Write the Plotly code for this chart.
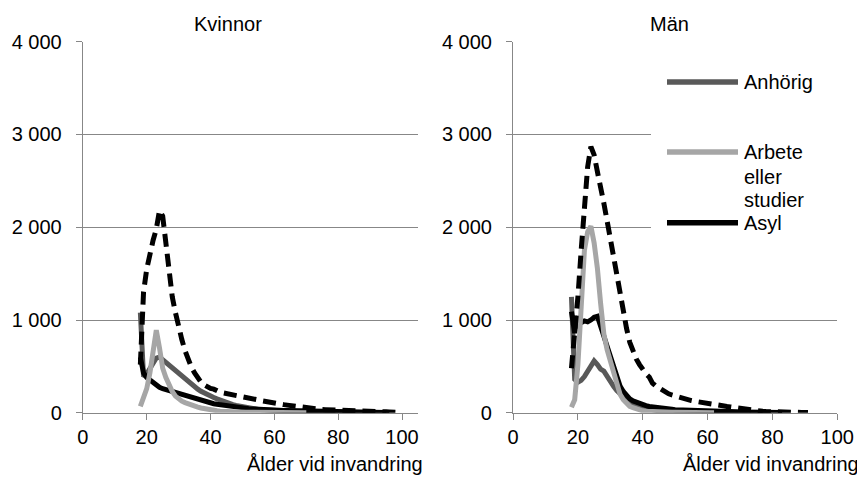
import plotly.graph_objects as go

# ---------------- data ----------------
AGE_START = 18
ages = list(range(AGE_START, 101))

# Kvinnor
k_total = [520, 1300, 1550, 1720, 1860, 1980, 2180, 2120, 1800, 1480,
           1250, 1080, 900, 790, 670, 570, 490, 430, 375, 330,
           300, 275, 262, 255, 235, 222, 214, 208, 204, 195,
           186, 178, 172, 166, 160, 152, 145, 138, 130, 122,
           116, 110, 104, 97, 92, 88, 83, 78, 72, 66,
           60, 55, 50, 47, 44, 41, 38, 35, 34, 32,
           31, 30, 28, 27, 26, 26, 25, 24, 23, 21,
           19, 17, 16, 14, 13, 12, 11, 10, 9, 8,
           7, 6, 5]
k_anhorig = [1080, 390, 420, 480, 540, 590, 600, 570, 545, 510,
             480, 450, 420, 395, 360, 330, 300, 280, 255, 232,
             212, 195, 178, 165, 150, 135, 120, 108, 98, 88,
             80, 72, 64, 57, 51, 46, 41, 37, 34, 31,
             28, 26, 24, 22, 20, 18, 17, 16, 15, 14,
             13, 12, 11, 10, 9, 8, 8, 7, 6, 6,
             5, 5, 4, 4, 3, 3, 3, 2, 2, 2,
             2, 1, 1, 1, 1, 1, 1, 1]
k_arbete = [70, 150, 260, 430, 680, 890, 700, 480, 380, 300,
            230, 180, 150, 125, 110, 95, 85, 72, 62, 52,
            44, 38, 32, 27, 22, 18, 15, 13, 11, 10,
            9, 8, 7, 6, 6, 5, 5, 4, 4, 3,
            3, 3, 2, 2, 2, 2, 1, 1, 1, 1,
            1, 1, 0]
k_asyl = [600, 430, 380, 350, 320, 300, 275, 260, 250, 240,
          225, 212, 200, 190, 180, 168, 158, 148, 138, 128,
          120, 112, 105, 98, 92, 86, 80, 75, 70, 65,
          60, 56, 52, 48, 45, 42, 39, 36, 34, 32,
          30, 29, 28, 27, 26, 25, 24, 23, 22, 21,
          20, 19, 18, 17, 16, 15, 14, 13, 13, 12,
          12, 11, 11, 10, 10, 9, 9, 8, 8, 7,
          7, 6, 6, 5, 5, 4, 4, 3, 3]

# Män
m_total = [480, 820, 1250, 1750, 2250, 2650, 2870, 2780, 2600, 2450,
           2260, 2070, 1870, 1680, 1470, 1270, 1080, 910, 760, 660,
           580, 520, 460, 420, 385, 320, 290, 265, 245, 225,
           205, 192, 180, 170, 160, 150, 140, 132, 125, 118,
           112, 106, 100, 95, 88, 82, 76, 72, 68, 64,
           58, 52, 46, 42, 36, 32, 28, 24, 20, 16,
           13, 11, 10, 9, 8, 8, 7, 7, 6, 5,
           4, 4, 3, 3]
m_anhorig = [1250, 360, 330, 350, 390, 440, 500, 560, 520, 470,
             450, 390, 340, 285, 240, 200, 170, 140, 115, 95,
             80, 65, 55, 45, 35, 30, 26, 22, 19, 17,
             15, 13, 12, 11, 10, 9, 8, 7, 7, 6,
             6, 5, 5, 4, 4, 4, 3, 3, 3, 2,
             2, 2, 2, 1, 1, 1, 1, 1, 1, 0]
m_arbete = [60, 140, 520, 1170, 1750, 1950, 2010, 1830, 1560, 1180,
            850, 680, 560, 430, 300, 200, 140, 100, 70, 55,
            40, 30, 22, 18, 15, 12, 10, 9, 8, 7,
            6, 5, 5, 4, 4, 3, 3, 2, 2, 2,
            1, 1, 1, 1, 0]
m_asyl = [1090, 860, 1000, 970, 990, 980, 1000, 1030, 1040, 930,
          800, 700, 600, 480, 380, 290, 230, 180, 150, 128,
          112, 100, 88, 78, 68, 62, 58, 55, 50, 46,
          42, 38, 34, 32, 30, 28, 26, 24, 22, 21,
          20, 19, 18, 17, 16, 15, 14, 13, 12, 11,
          10, 10, 9, 9, 8, 8, 7, 7, 6, 6,
          5, 5, 4, 4, 3, 3]

y_tickvals = [0, 1000, 2000, 3000, 4000]
y_ticktext = ["0", "1 000", "2 000", "3 000", "4 000"]
x_tickvals = [0, 20, 40, 60, 80, 100]
x_ticktext = ["0", "20", "40", "60", "80", "100"]

panel_titles = ["Kvinnor", "Män"]
x_title = "Ålder vid invandring"
legend_names = ["Anhörig", "Arbete", "eller", "studier", "Asyl"]
series_names = ["Anhörig", "Arbete eller studier", "Asyl", "Totalt"]

# ---------------- styling ----------------
OFF = 8                      # page body margin in the browser
W, H = 865 - OFF, 477 - OFF  # figure fits the window exactly
FONT = "Liberation Sans, Arial, sans-serif"
GRID = "#878787"
C_ANH = "#595959"
C_ARB = "#a6a6a6"
C_ASY = "#000000"
LW = 5


def px(x):
    """window pixel x -> paper fraction"""
    return (x - OFF) / W


def py(y):
    """window pixel y -> paper fraction"""
    return 1 - (y - OFF) / H


fig = go.Figure()


def add_panel(xa, ya, anh, arb, asy, tot):
    specs = [
        (series_names[0], anh, dict(color=C_ANH, width=LW)),
        (series_names[2], asy, dict(color=C_ASY, width=LW)),
        (series_names[1], arb, dict(color=C_ARB, width=LW)),
        (series_names[3], tot, dict(color="#000000", width=LW, dash="13px,7px")),
    ]
    for name, vals, line in specs:
        fig.add_trace(go.Scatter(
            x=ages[:len(vals)], y=vals, mode="lines", name=name,
            line=line, xaxis=xa, yaxis=ya, showlegend=False,
            hoverinfo="x+y+name"))


add_panel("x", "y", k_anhorig, k_arbete, k_asyl, k_total)
add_panel("x2", "y2", m_anhorig, m_arbete, m_asyl, m_total)

y_dom = [py(412.8), py(41.7)]
common_y = dict(
    range=[0, 4000], tickvals=y_tickvals, ticktext=y_ticktext,
    showgrid=True, gridcolor=GRID, gridwidth=1.3,
    showline=True, linecolor=GRID, linewidth=1.3,
    ticks="outside", ticklen=6, tickcolor=GRID, tickwidth=1.3,
    zeroline=False, ticklabelstandoff=10, automargin=False,
    tickfont=dict(family=FONT, size=20, color="#000"),
    domain=y_dom, fixedrange=True,
)
common_x = dict(
    tickvals=x_tickvals, ticktext=x_ticktext,
    showgrid=False, showline=True, linecolor=GRID, linewidth=1.3,
    ticks="outside", ticklen=6, tickcolor=GRID, tickwidth=1.3,
    zeroline=False, automargin=False,
    tickfont=dict(family=FONT, size=20, color="#000"),
    fixedrange=True,
)

fig.update_layout(
    width=W, height=H, autosize=False,
    margin=dict(l=0, r=0, t=0, b=0, pad=0, autoexpand=False),
    paper_bgcolor="white", plot_bgcolor="white",
    font=dict(family=FONT, size=20, color="#000"),
    xaxis=dict(common_x, domain=[px(82.9), px(418)], range=[0, 105], anchor="y"),
    yaxis=dict(common_y, anchor="x"),
    xaxis2=dict(common_x, domain=[px(513.1), px(837.2)], range=[0, 100], anchor="y2"),
    yaxis2=dict(common_y, anchor="x2"),
)

shapes = [
    # white legend box hiding the gridlines behind the legend
    dict(type="rect", xref="paper", yref="paper",
         x0=px(651), x1=px(850), y0=py(300), y1=py(48),
         fillcolor="white", line=dict(width=0), layer="above"),
]
for ycen, col in [(82, C_ANH), (152, C_ARB), (222.7, C_ASY)]:
    shapes.append(dict(type="line", xref="paper", yref="paper",
                       x0=px(667), x1=px(738), y0=py(ycen), y1=py(ycen),
                       line=dict(color=col, width=5.5), layer="above"))
fig.update_layout(shapes=shapes)

annotations = [
    dict(text=panel_titles[0], x=px(228), y=py(24)),
    dict(text=panel_titles[1], x=px(669.5), y=py(24)),
    dict(text=x_title, x=px(425), y=py(464), xanchor="right"),
    dict(text=x_title, x=px(861), y=py(464), xanchor="right"),
]
for txt, ycen in zip(legend_names, [82, 152, 176.5, 200.5, 222.7]):
    annotations.append(dict(text=txt, x=px(742), y=py(ycen), xanchor="left"))
for a in annotations:
    a.setdefault("xanchor", "center")
    a.update(xref="paper", yref="paper", yanchor="middle", showarrow=False,
             font=dict(family=FONT, size=20, color="#000"))
fig.update_layout(annotations=annotations)

fig.write_html("out.html")
